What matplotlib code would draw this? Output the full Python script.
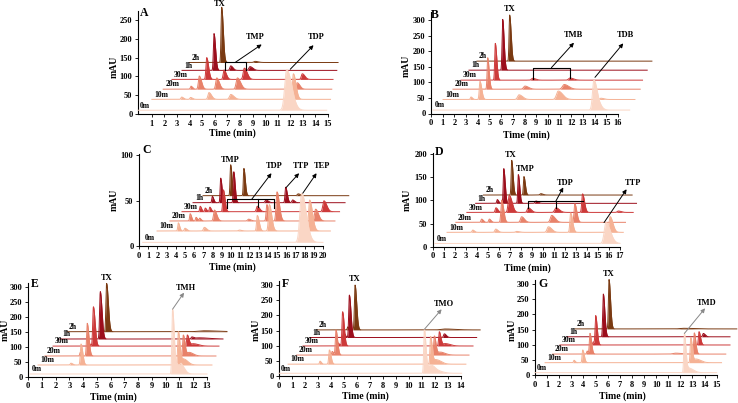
import numpy as np
import matplotlib.pyplot as plt

plt.rcParams['font.family'] = ['Liberation Serif', 'DejaVu Serif']
plt.rcParams['font.weight'] = 'bold'

# traces, front to back
samples = ["0m", "10m", "20m", "30m", "1h", "2h"]
fills = ["#fad6c5", "#f5b295", "#e8826a", "#cd3a3a", "#9c0e1c", "#7a3a12"]

# ---- panel A ----
A_start = [-0.1, 1.0, 1.9, 2.6, 3.4, 4.0]
A_end = [14.9, 15.2, 15.3, 15.4, 15.7, 15.8]
A_base = [10, 39, 66, 92, 116, 137]
A_peaks = [
    [(11.72, 108, 0.16)],
    [(3.37, 6, 0.06), (4.08, 5, 0.06), (5.54, 18, 0.08), (7.27, 13, 0.1), (12.25, 68, 0.08)],
    [(4.11, 8, 0.05), (4.77, 35, 0.07), (6.16, 30, 0.08), (7.8, 30, 0.1), (12.56, 17, 0.08)],
    [(5.36, 58, 0.06), (6.74, 25, 0.07), (8.35, 30, 0.09), (12.96, 15, 0.08)],
    [(5.94, 98, 0.05), (7.27, 12, 0.07), (8.8, 10, 0.09)],
    [(6.55, 147, 0.05), (9.2, 3, 0.1)],
]

# ---- panel B ----
B_start = [0.17, 1.03, 1.88, 2.57, 3.25, 3.93]
B_end = [17.0, 17.45, 17.9, 18.1, 18.5, 18.9]
B_base = [11, 45, 78, 107, 139, 168]
B_peaks = [
    [(13.94, 96, 0.12), (14.55, 5, 0.1)],
    [(3.42, 8, 0.05), (4.19, 58, 0.06), (7.53, 15, 0.12), (10.89, 27, 0.15), (14.54, 4, 0.1)],
    [(4.85, 101, 0.05), (8.04, 10, 0.12), (11.4, 15, 0.15)],
    [(5.5, 118, 0.05), (8.7, 6, 0.1), (11.89, 7, 0.12)],
    [(6.13, 163, 0.05)],
    [(6.73, 148, 0.05)],
]

# ---- panel C ----
C_start = [0.4, 1.96, 3.37, 4.67, 5.87, 6.96]
C_end = [20.0, 20.8, 21.3, 21.8, 22.4, 22.8]
C_base = [4, 16.5, 27.5, 37.7, 47.6, 55.3]
C_peaks = [
    [(17.68, 54, 0.2)],
    [(4.27, 9, 0.06), (5.0, 3, 0.08), (7.1, 4, 0.1), (10.9, 1, 0.1), (12.86, 17, 0.08),
     (14.17, 29, 0.1), (18.55, 34, 0.12)],
    [(5.56, 8, 0.06), (6.2, 4, 0.06), (6.6, 3, 0.06), (8.2, 12, 0.1), (11.9, 2, 0.1),
     (13.9, 18, 0.08), (15.0, 32, 0.1), (19.2, 13, 0.12)],
    [(6.65, 6, 0.06), (7.2, 4, 0.06), (7.7, 5, 0.06), (9.17, 24, 0.07), (12.86, 6, 0.1),
     (20.1, 12, 0.12)],
    [(7.97, 7, 0.06), (8.88, 27, 0.06), (10.3, 34, 0.06), (13.8, 3, 0.1), (15.94, 17, 0.07),
     (16.7, 3, 0.08)],
    [(9.96, 34, 0.06), (11.4, 30, 0.06), (17.3, 2, 0.1)],
]

# ---- panel D ----
D_start = [0.2, 1.3, 2.1, 3.1, 3.9, 4.6]
D_end = [17.0, 17.3, 17.5, 18.2, 18.5, 18.1]
D_base = [7, 31, 52.6, 74, 93.6, 111.5]
D_peaks = [
    [(15.73, 45, 0.16)],
    [(3.63, 5, 0.06), (5.72, 7, 0.08), (7.62, 2, 0.1), (10.5, 12, 0.12), (12.52, 42, 0.07),
     (16.1, 34, 0.1)],
    [(4.44, 7, 0.06), (5.14, 7, 0.06), (6.26, 48, 0.07), (8.07, 12, 0.1), (10.8, 15, 0.12),
     (12.9, 40, 0.07)],
    [(5.74, 10, 0.07), (6.95, 37, 0.1), (8.68, 10, 0.1), (11.19, 10, 0.12), (13.6, 40, 0.07),
     (16.85, 3, 0.1)],
    [(5.86, 8, 0.05), (6.45, 75, 0.05), (7.77, 62, 0.05), (9.37, 5, 0.08)],
    [(7.17, 75, 0.05), (8.28, 40, 0.05), (9.8, 3, 0.08)],
]

# ---- panel E ----
E_start = [0.15, 0.73, 1.23, 1.82, 2.32, 2.83]
E_end = [13.0, 13.36, 13.65, 13.87, 14.16, 14.45]
E_base = [9, 39, 69, 102, 125.6, 150]
E_peaks = [
    [(10.5, 216, 0.05), (10.85, 30, 0.08), (11.15, 25, 0.1)],
    [(3.12, 6, 0.05), (3.85, 70, 0.05), (10.92, 111, 0.05), (11.3, 20, 0.12)],
    [(3.8, 12, 0.04), (4.3, 109, 0.05), (11.28, 70, 0.05), (11.7, 12, 0.12)],
    [(4.45, 8, 0.04), (4.75, 131, 0.05), (11.57, 37, 0.05), (12.0, 8, 0.15)],
    [(5.25, 158, 0.05), (11.9, 6, 0.05), (12.4, 4, 0.3)],
    [(5.71, 161, 0.05), (12.8, 3, 0.4)],
]

# ---- panel F ----
F_start = [0.0, 0.7, 1.36, 1.85, 2.4, 2.9]
F_end = [14.07, 14.4, 14.64, 14.95, 15.23, 15.5]
F_base = [9, 39, 69, 99, 127, 152]
F_peaks = [
    [(11.2, 145, 0.05), (11.6, 25, 0.12), (12.0, 10, 0.2)],
    [(3.16, 10, 0.04), (3.88, 47, 0.05), (11.68, 91, 0.05), (12.1, 15, 0.15)],
    [(4.1, 12, 0.04), (4.39, 83, 0.05), (11.97, 63, 0.05), (12.4, 10, 0.15)],
    [(4.55, 10, 0.04), (4.9, 113, 0.05), (12.35, 47, 0.05), (12.8, 8, 0.15)],
    [(5.0, 15, 0.04), (5.42, 140, 0.05), (12.74, 12, 0.06)],
    [(5.3, 10, 0.04), (5.86, 148, 0.05), (12.8, 3, 0.3)],
]

# ---- panel G ----
G_start = [0.0, 0.83, 1.46, 2.06, 2.64, 3.3]
G_end = [15.0, 15.4, 15.75, 16.1, 16.1, 16.66]
G_base = [7.7, 40.6, 69, 99, 126, 152]
G_peaks = [
    [(12.33, 130, 0.05), (12.7, 15, 0.15)],
    [(3.22, 8, 0.04), (3.94, 42, 0.05), (12.86, 84, 0.05), (13.3, 12, 0.15)],
    [(4.3, 10, 0.04), (4.54, 68, 0.05), (11.6, 3, 0.2), (13.15, 70, 0.05)],
    [(4.8, 10, 0.04), (5.01, 96, 0.05), (13.54, 44, 0.05)],
    [(5.64, 141, 0.05), (13.9, 11, 0.06)],
    [(6.11, 163, 0.05), (12.3, 2, 0.3)],
]

W, H = 738, 403
fig = plt.figure(figsize=(W / 100, H / 100), dpi=100)


def make_axes(xlim, px, ylim, py, xticks, yticks):
    # px: pixel x of xlim ends, py: pixel y of ylim ends
    ax = fig.add_axes([px[0] / W, 1 - py[0] / H, (px[1] - px[0]) / W, (py[0] - py[1]) / H])
    ax.set_xlim(*xlim)
    ax.set_ylim(*ylim)
    ax.patch.set_alpha(0)
    for s in ["top", "right"]:
        ax.spines[s].set_visible(False)
    for s in ["left", "bottom"]:
        ax.spines[s].set_linewidth(0.8)
    ax.set_xticks(xticks)
    ax.set_yticks(yticks)
    ax.tick_params(labelsize=6, length=2.5, width=0.6, pad=1.5)
    return ax


def draw_traces(ax, starts, ends, bases, peaks):
    for k in range(5, -1, -1):
        t = np.linspace(starts[k], ends[k], 2000)
        y = np.zeros_like(t)
        for rt, h, w in peaks[k]:
            u = (t - rt) / w
            y += h * np.where(u < 0, np.exp(-0.5 * u ** 2), np.exp(-0.5 * (u / 2.5) ** 2))
        ax.fill_between(t, bases[k], bases[k] + y, color=fills[k], lw=0, zorder=10 - k,
                        clip_on=False)
        ax.plot(t, bases[k] + y, color=fills[k], lw=0.7, zorder=10 - k, clip_on=False)
        ax.annotate(samples[k], (starts[k], bases[k]), xytext=(1.5, 0.5),
                    textcoords="offset points", fontsize=5.5, ha="left", va="bottom",
                    annotation_clip=False, zorder=20)


def label(ax, s, x, y, size=6):
    ax.text(x, y, s, fontsize=size, ha="center", va="center", clip_on=False, zorder=30)


def arrow(ax, x0, y0, x1, y1, color="k"):
    ax.annotate("", xy=(x1, y1), xytext=(x0, y0), annotation_clip=False, zorder=30,
                arrowprops=dict(arrowstyle="-|>", color=color, lw=0.7, mutation_scale=6,
                                shrinkA=0, shrinkB=0))


def bracket(ax, xs, ys):
    ax.plot(xs, ys, color="k", lw=0.8, clip_on=False, zorder=25)


def axis_labels(xpx, ypx, tx, ty):
    fig.text(xpx / W, 1 - ypx / H, "mAU", rotation=90, fontsize=7, ha="center", va="center")
    fig.text(tx / W, 1 - ty / H, "Time (min)", fontsize=7, ha="center", va="center")


# A
ax = make_axes((-0.1, 15), (138, 328), (0, 275), (114, 10.6), range(1, 16), range(0, 251, 50))
draw_traces(ax, A_start, A_end, A_base, A_peaks)
bracket(ax, [6.82, 6.82, 8.46, 8.46], [116, 137.5, 137.5, 118])
arrow(ax, 7.64, 137.5, 9.73, 185)
label(ax, "TMP", 9.2, 204)
arrow(ax, 12.0, 119, 13.85, 183)
label(ax, "TDP", 14.1, 204)
label(ax, "TX", 6.4, 293)
label(ax, "A", 0.4, 268, 8.5)
axis_labels(114, 67, 232, 133)

# B
ax = make_axes((0, 16), (431, 618), (0, 325), (113.5, 12.2), range(0, 17), range(0, 301, 50))
draw_traces(ax, B_start, B_end, B_base, B_peaks)
bracket(ax, [8.75, 8.75, 11.89, 11.89], [112, 147, 147, 113])
arrow(ax, 10.3, 147, 12.23, 227)
label(ax, "TMB", 12.2, 252)
arrow(ax, 14.03, 116, 16.45, 225)
label(ax, "TDB", 16.6, 252)
label(ax, "TX", 6.76, 334)
label(ax, "B", 0.34, 316, 8.5)
axis_labels(406, 66, 526, 135)

# C
ax = make_axes((0, 20), (139, 323), (0, 101), (246, 154.1), range(0, 21), [0, 50, 100])
draw_traces(ax, C_start, C_end, C_base, C_peaks)
bracket(ax, [9.53, 9.53, 14.67, 14.67], [41.4, 51.3, 51.3, 41.4])
bracket(ax, [12.97, 12.97], [51.3, 43])
arrow(ax, 12.25, 51.3, 14.4, 80)
label(ax, "TDP", 14.7, 88)
arrow(ax, 15.97, 64, 17.4, 80)
label(ax, "TTP", 17.6, 88)
arrow(ax, 17.8, 58, 19.3, 80)
label(ax, "TEP", 19.86, 88)
label(ax, "TMP", 9.96, 95)
label(ax, "C", 0.84, 105, 8.5)
axis_labels(114, 200, 232, 267)

# D
ax = make_axes((0, 17), (432.7, 620), (0, 202), (246.7, 153.1), range(0, 18), range(0, 201, 50))
draw_traces(ax, D_start, D_end, D_base, D_peaks)
bracket(ax, [8.68, 8.68, 13.6], [84, 99, 99])
bracket(ax, [11.19, 11.19], [99, 84])
arrow(ax, 11.19, 99, 11.85, 128)
label(ax, "TDP", 12.0, 138)
arrow(ax, 15.55, 52, 17.6, 124)
label(ax, "TTP", 18.2, 138)
label(ax, "TX", 7.1, 198)
label(ax, "TMP", 8.37, 168)
label(ax, "D", 0.57, 205, 8.5)
axis_labels(407, 200, 527, 268)

# E
ax = make_axes((0, 13), (28, 207), (0, 312), (376.7, 283.1), range(0, 14), range(0, 301, 50))
draw_traces(ax, E_start, E_end, E_base, E_peaks)
arrow(ax, 10.5, 225, 11.33, 280, color="#888888")
label(ax, "TMH", 11.5, 295)
label(ax, "TX", 5.71, 328)
label(ax, "E", 0.5, 309, 8.5)
axis_labels(5, 330, 113, 397)

# F
ax = make_axes((0, 14), (279, 460.7), (0, 312), (376, 281.4), range(0, 15), range(0, 301, 50))
draw_traces(ax, F_start, F_end, F_base, F_peaks)
arrow(ax, 11.2, 154, 12.53, 220, color="#888888")
label(ax, "TMO", 12.7, 239)
label(ax, "TX", 5.86, 319)
label(ax, "F", 0.46, 303, 8.5)
axis_labels(256, 330, 365, 396)

# G
ax = make_axes((0, 15), (535, 716.7), (0, 312), (375, 280.4), range(0, 16), range(0, 301, 50))
draw_traces(ax, G_start, G_end, G_base, G_peaks)
arrow(ax, 12.33, 137, 14.04, 220, color="#888888")
label(ax, "TMD", 14.18, 238)
label(ax, "TX", 6.05, 333)
label(ax, "G", 0.63, 300, 8.5)
axis_labels(512, 330, 622, 396)

fig.savefig("out.png", dpi=100)
